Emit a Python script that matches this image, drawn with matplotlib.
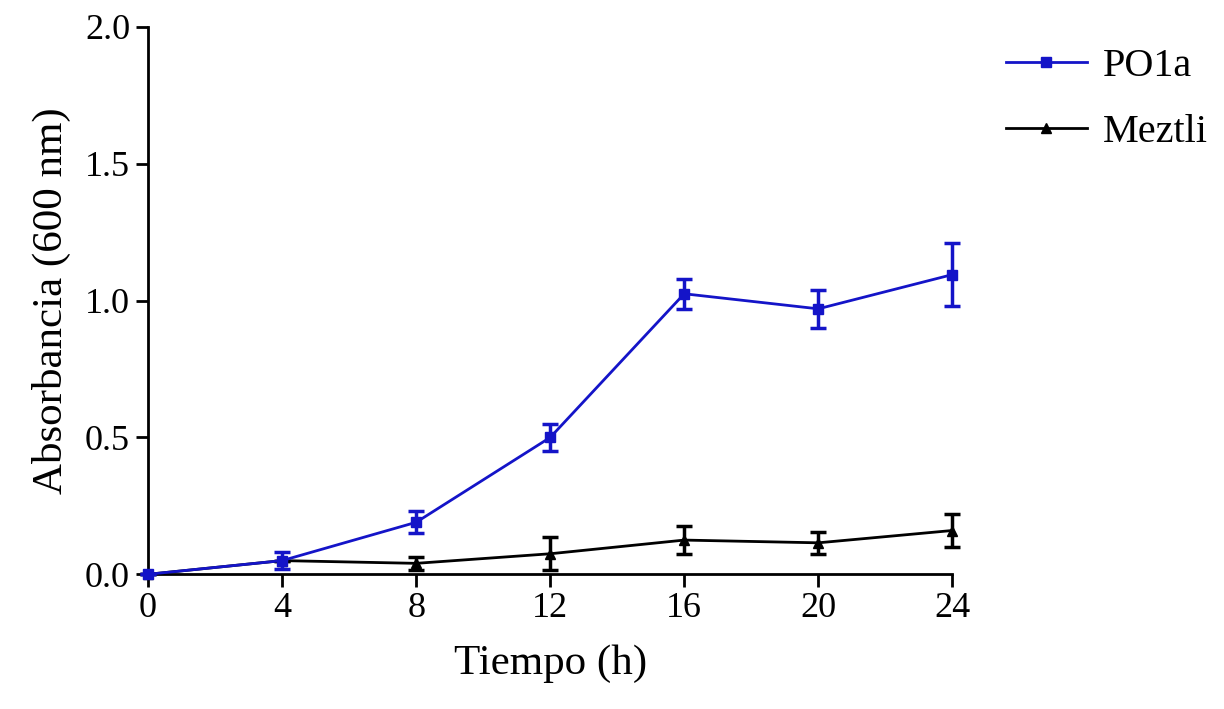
import matplotlib
matplotlib.use('Agg')
import matplotlib.pyplot as plt
from matplotlib.lines import Line2D

plt.rcParams['font.family'] = ['Liberation Serif', 'DejaVu Serif']

tiempo = [0, 4, 8, 12, 16, 20, 24]

po1a = [0.0, 0.05, 0.19, 0.50, 1.025, 0.97, 1.095]
po1a_err = [0.0, 0.03, 0.04, 0.05, 0.055, 0.07, 0.115]

meztli = [0.0, 0.05, 0.04, 0.075, 0.125, 0.115, 0.16]
meztli_err = [0.0, 0.0, 0.025, 0.06, 0.05, 0.04, 0.06]

azul = '#1414c8'

fig = plt.figure(figsize=(12.24, 7.09), dpi=100)
ax = fig.add_axes([0.121, 0.19, 0.657, 0.772])

for y, e, c, m, z in [(po1a, po1a_err, azul, 's', 3), (meztli, meztli_err, 'black', '^', 2)]:
    lns = ax.errorbar(tiempo, y, yerr=e, color=c, marker=m, markersize=7,
                      linewidth=2, elinewidth=2.5, capsize=6, capthick=2.5, zorder=z)
    # que no se corten las barras en x=24
    lns.lines[0].set_clip_on(False)
    for art in lns.lines[1] + lns.lines[2]:
        art.set_clip_on(False)

ax.set_xlim(0, 24)
ax.set_ylim(0, 2.0)
ax.set_xticks([0, 4, 8, 12, 16, 20, 24])
ax.set_yticks([0.0, 0.5, 1.0, 1.5, 2.0])
ax.set_yticklabels(['0.0', '0.5', '1.0', '1.5', '2.0'])

ax.spines['top'].set_visible(False)
ax.spines['right'].set_visible(False)
for s in ['left', 'bottom']:
    ax.spines[s].set_linewidth(2)
ax.tick_params(axis='both', width=2, length=9, labelsize=26, pad=4)

ax.set_xlabel('Tiempo (h)', fontsize=31, labelpad=14)
ax.set_ylabel('Absorbancia (600 nm)', fontsize=31, labelpad=10)

handles = [Line2D([], [], color=azul, marker='s', markersize=7, linewidth=2),
           Line2D([], [], color='black', marker='^', markersize=7, linewidth=2)]
fig.legend(handles, ['PO1a', 'Meztli'], loc='upper left', bbox_to_anchor=(0.822, 0.932),
           frameon=False, fontsize=29, handlelength=2.0, handletextpad=0.4,
           labelspacing=0.7, borderaxespad=0, borderpad=0)

fig.savefig('out.png', dpi=100)
